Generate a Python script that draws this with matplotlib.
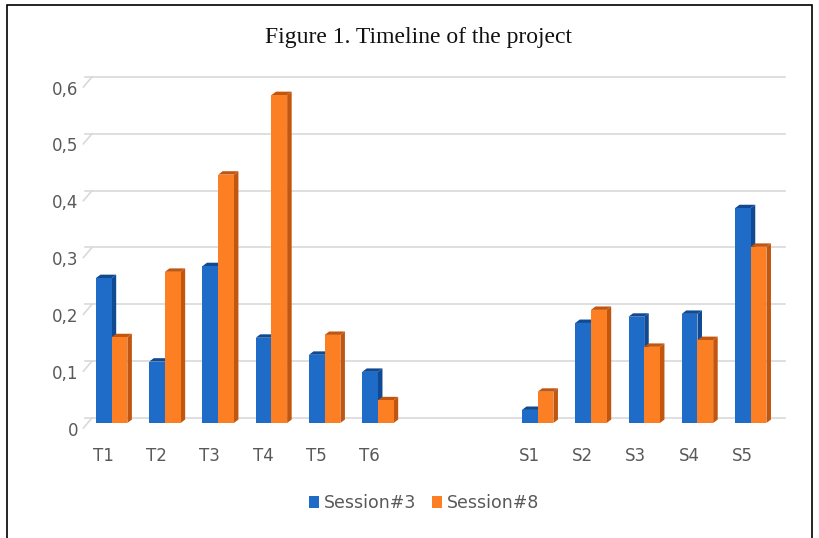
import numpy as np
import matplotlib.pyplot as plt
from matplotlib.patches import Polygon, Rectangle
from matplotlib.lines import Line2D
from matplotlib.transforms import ScaledTranslation

# categories, with two empty slots between the T and S groups
categories = ['T1', 'T2', 'T3', 'T4', 'T5', 'T6', '', '', 'S1', 'S2', 'S3', 'S4', 'S5']
session3 = [0.255, 0.108, 0.276, 0.15, 0.12, 0.09, np.nan, np.nan,
            0.023, 0.176, 0.187, 0.192, 0.378]
session8 = [0.151, 0.266, 0.437, 0.577, 0.155, 0.04, np.nan, np.nan,
            0.055, 0.199, 0.134, 0.146, 0.31]
yticks = [0, 0.1, 0.2, 0.3, 0.4, 0.5, 0.6]
ytick_labels = ['0', '0,1', '0,2', '0,3', '0,4', '0,5', '0,6']

blue, blue_dark = '#1f6cc8', '#0f4a93'
orange, orange_dark = '#fd7f23', '#c2560f'
gray_text = '#595959'
sans = ['Liberation Sans Narrow', 'DejaVu Sans']

fig = plt.figure(figsize=(8.2, 5.38), dpi=100)
ax = fig.add_axes([0.1037, 0.2138, 0.8443, 0.6338])

x = np.arange(len(categories))
w = 0.295
ax.set_xlim(-0.5, len(categories) - 0.5)
ax.set_ylim(0, 0.6)

# pseudo-3D depth in data units (about 4-5 px right, 3-5 px up)
ddx = 0.085
ddy = 0.006

# back-wall gridlines, shifted up/right, with a slanted lead-in on the left
gdx, gdy = 0.15, 0.0088
for v in yticks:
    ax.add_line(Line2D([-0.5, 12.5 + gdx], [v + gdy, v + gdy], color='#d9d9d9',
                       lw=1.2, clip_on=False, zorder=0))
    ax.add_line(Line2D([-0.53, -0.5 + 0.13], [v - 0.0088, v + gdy], color='#d9d9d9',
                       lw=1.2, clip_on=False, zorder=0))

def bar3d(xs, vals, offset, face, dark):
    bars = ax.bar(xs + offset, vals, width=w, color=face, linewidth=0, zorder=3)
    for b, v in zip(bars, vals):
        if np.isnan(v):
            continue
        x0 = b.get_x()
        x1 = x0 + b.get_width()
        side = Polygon([(x1, 0), (x1 + ddx, ddy), (x1 + ddx, v + ddy), (x1, v)],
                       closed=True, facecolor=dark, edgecolor='none', zorder=2)
        top = Polygon([(x0, v), (x0 + ddx, v + ddy), (x1 + ddx, v + ddy), (x1, v)],
                      closed=True, facecolor=dark, edgecolor='none', zorder=2)
        ax.add_patch(side)
        ax.add_patch(top)
    return bars

b3 = bar3d(x, session3, -w / 2, blue, blue_dark)
b8 = bar3d(x, session8, w / 2, orange, orange_dark)

for s in ax.spines.values():
    s.set_visible(False)
ax.tick_params(length=0)
ax.set_yticks(yticks)
ax.set_yticklabels(ytick_labels, fontsize=12, color=gray_text, family=sans)
ax.tick_params(axis='y', pad=5)
ax.set_xticks(x)
ax.set_xticklabels(categories, fontsize=12, color=gray_text, family=sans)
ax.tick_params(axis='x', pad=17)
shift = ScaledTranslation(-6 / 72, 0, fig.dpi_scale_trans)
for lbl in ax.get_xticklabels():
    lbl.set_transform(lbl.get_transform() + shift)
shift_y = ScaledTranslation(0, -4 / 72, fig.dpi_scale_trans)
for lbl in ax.get_yticklabels():
    lbl.set_transform(lbl.get_transform() + shift_y)

fig.text(0.51, 0.931, 'Figure 1. Timeline of the project', ha='center', va='center',
         fontsize=17, family=['Liberation Serif', 'DejaVu Serif'], color='#111111')

leg = fig.legend([b3, b8], ['Session#3', 'Session#8'], loc='center',
                 bbox_to_anchor=(0.517, 0.065), ncol=2, frameon=False,
                 handlelength=0.6, handleheight=0.7, handletextpad=0.25,
                 columnspacing=0.9, prop={'family': sans, 'size': 12.5})
for t in leg.get_texts():
    t.set_color(gray_text)

# outer frame of the figure panel
fig.patches.append(Rectangle((7 / 820, -0.05), (812 - 7) / 820, 1.05 - 5 / 538,
                             transform=fig.transFigure, fill=False,
                             edgecolor='black', lw=1.2))

fig.savefig('out.png', dpi=100)
